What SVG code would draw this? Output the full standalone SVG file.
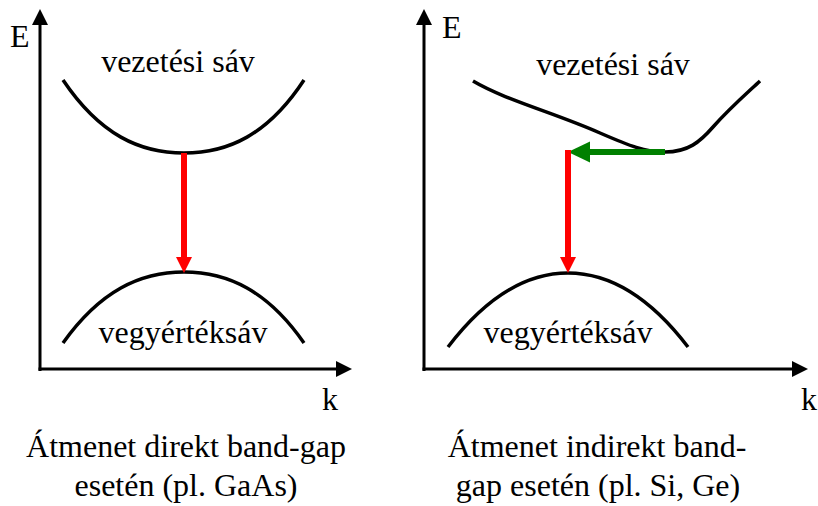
<svg xmlns="http://www.w3.org/2000/svg" width="818" height="506" viewBox="0 0 818 506">
<style>
.axis{stroke:#000;stroke-width:3;fill:none}
.band{stroke:#000;stroke-width:3.5;fill:none;stroke-linecap:butt}
.head{fill:#000}
.red{stroke:#FF0000;stroke-width:6;fill:none}
.green{stroke:#008000;stroke-width:6;fill:none}
</style>
<rect width="818" height="506" fill="#fff"/>
<g font-family="'Liberation Serif', 'Times New Roman', 'DejaVu Serif', serif" font-size="32" fill="#000">
<g id="left-diagram">
  <g id="left-axes">
    <line class="axis" x1="40" y1="371" x2="40" y2="22"/>
    <polygon class="head" points="40,9 32,25 48,25"/>
    <line class="axis" x1="38.5" y1="369" x2="339" y2="369"/>
    <polygon class="head" points="352,369 336,361 336,377"/>
    <text x="10" y="47">E</text>
    <text x="322" y="410">k</text>
  </g>
  <g id="left-conduction">
    <path class="band" d="M63,80 C100,135 140,153 184,153 C228,153 268,135 304,80"/>
    <text x="178" y="72" text-anchor="middle">vezetési sáv</text>
  </g>
  <g id="left-valence">
    <path class="band" d="M63,343 C100,291 140,272 184,272 C228,272 268,291 304,343"/>
    <text x="183" y="343" text-anchor="middle">vegyértéksáv</text>
  </g>
  <g id="left-caption">
    <text x="186" y="457" text-anchor="middle">Átmenet direkt band-gap</text>
    <text x="186" y="496" text-anchor="middle">esetén (pl. GaAs)</text>
  </g>
</g>
<g id="right-diagram">
  <g id="right-axes">
    <line class="axis" x1="424" y1="371" x2="424" y2="22"/>
    <polygon class="head" points="424,9 416,25 432,25"/>
    <line class="axis" x1="422.5" y1="369" x2="795" y2="369"/>
    <polygon class="head" points="808,369 792,361 792,377"/>
    <text x="442" y="38">E</text>
    <text x="801" y="410">k</text>
  </g>
  <g id="right-conduction">
    <path class="band" d="M473,81 C505,100 555,113 600,133 C630,146 645,152 665,152 C688,152 700,142 713,127 C730,108 745,95 760,81"/>
    <text x="613" y="75" text-anchor="middle">vezetési sáv</text>
  </g>
  <g id="right-valence">
    <path class="band" d="M448,347 C490,292 530,273 568,273 C606,273 646,292 688,347"/>
    <text x="568" y="343" text-anchor="middle">vegyértéksáv</text>
  </g>
  <g id="right-caption">
    <text x="597" y="457" text-anchor="middle">Átmenet indirekt band-</text>
    <text x="598" y="496" text-anchor="middle">gap esetén (pl. Si, Ge)</text>
  </g>
</g>
</g>
<g id="connectors">
  <line class="red" x1="184" y1="153" x2="184" y2="259"/>
  <polygon fill="#FF0000" points="176,257 192,257 184,273"/>
  <line class="green" x1="665" y1="152" x2="588" y2="152"/>
  <polygon fill="#008000" points="590,141.5 590,162.5 568,152"/>
  <line class="red" x1="568" y1="150" x2="568" y2="259"/>
  <polygon fill="#FF0000" points="560,257 576,257 568,273"/>
</g>
</svg>
